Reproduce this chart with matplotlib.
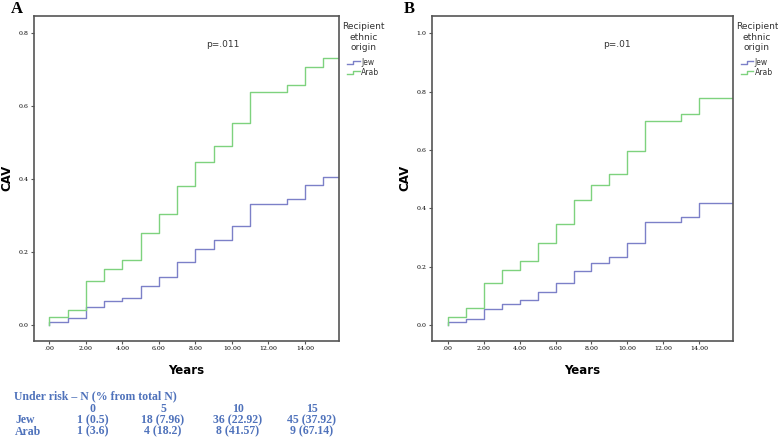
import matplotlib
matplotlib.use("Agg")
import matplotlib.pyplot as plt
from matplotlib.legend_handler import HandlerBase
from matplotlib.lines import Line2D

# ---- data ----
times_A = [0, 1, 2, 3, 4, 5, 6, 7, 8, 9, 10, 11, 13, 14, 15]
jew_A = [0.007, 0.019, 0.05, 0.065, 0.075, 0.107, 0.132, 0.173, 0.209, 0.234, 0.272, 0.331, 0.345, 0.383, 0.405]
arab_A = [0.021, 0.042, 0.12, 0.154, 0.178, 0.251, 0.303, 0.382, 0.447, 0.491, 0.555, 0.638, 0.659, 0.707, 0.733]
end_A = 15.85

times_B = [0, 1, 2, 3, 4, 5, 6, 7, 8, 9, 10, 11, 13, 14]
jew_B = [0.009, 0.02, 0.055, 0.072, 0.086, 0.112, 0.143, 0.185, 0.211, 0.232, 0.281, 0.352, 0.371, 0.419]
arab_B = [0.028, 0.057, 0.143, 0.189, 0.218, 0.28, 0.347, 0.43, 0.48, 0.519, 0.598, 0.70, 0.724, 0.778]
end_B = 15.85

xticks = [0, 2, 4, 6, 8, 10, 12, 14]
xticklabels = [".00", "2.00", "4.00", "6.00", "8.00", "10.00", "12.00", "14.00"]
yticks_A = [0.0, 0.2, 0.4, 0.6, 0.8]
yticks_B = [0.0, 0.2, 0.4, 0.6, 0.8, 1.0]

risk_title = "Under risk \u2013 N (% from total N)"
risk_cols = ["0", "5", "10", "15"]
risk_rows = ["Jew", "Arab"]
risk_jew = ["1 (0.5)", "18 (7.96)", "36 (22.92)", "45 (37.92)"]
risk_arab = ["1 (3.6)", "4 (18.2)", "8 (41.57)", "9 (67.14)"]

JEW_C = "#7c80c8"
ARAB_C = "#7ed27e"
FRAME_C = "#555555"
TABLE_C = "#4f72bb"


class StepHandler(HandlerBase):
    def create_artists(self, legend, orig, xd, yd, w, h, fontsize, trans):
        xs = [xd, xd + 0.45 * w, xd + 0.45 * w, xd + w]
        ys = [yd + 0.25 * h, yd + 0.25 * h, yd + 0.8 * h, yd + 0.8 * h]
        ln = Line2D(xs, ys, color=orig.get_color(), lw=orig.get_linewidth(), transform=trans)
        return [ln]


fig = plt.figure(figsize=(7.78, 4.45), dpi=100)
fig.patch.set_facecolor("white")


def panel(rect, times, jew, arab, end, yticks, ylim, xlim, ptxt, pxy, label, lx):
    ax = fig.add_axes(rect)
    for vals, c, name in ((jew, JEW_C, "Jew"), (arab, ARAB_C, "Arab")):
        xs = [0] + list(times) + [end]
        ys = [0] + list(vals) + [vals[-1]]
        ax.step(xs, ys, where="post", color=c, lw=1.0, label=name)
    ax.set_xlim(*xlim)
    ax.set_ylim(*ylim)
    ax.set_xticks(xticks)
    ax.set_xticklabels(xticklabels, fontsize=4.5, family="DejaVu Serif")
    ax.set_yticks(yticks)
    ax.set_yticklabels([f"{v:.1f}" for v in yticks], fontsize=4.5, family="DejaVu Serif")
    ax.tick_params(direction="out", length=2.5, width=0.8, color=FRAME_C, pad=1.5)
    for s in ax.spines.values():
        s.set_color(FRAME_C)
        s.set_linewidth(1.2)
    ax.set_xlabel("Years", fontsize=8.5, fontweight="bold", family="DejaVu Sans")
    ax.xaxis.set_label_coords(0.5, -0.072)
    ax.set_ylabel("CAV", fontsize=8.5, fontweight="bold", family="DejaVu Sans")
    ax.yaxis.set_label_coords(-0.069, 0.5)
    ax.text(pxy[0], pxy[1], ptxt, fontsize=6.5, ha="center", va="center", color="#333333")
    leg = ax.legend(title="Recipient\nethnic\norigin", loc="upper left",
                    bbox_to_anchor=(1.005, 0.985), frameon=False,
                    handler_map={Line2D: StepHandler()},
                    fontsize=5.5, title_fontsize=6.5, handlelength=1.6,
                    handletextpad=0.2, labelspacing=0.1, borderaxespad=0.0,
                    borderpad=0.2)
    leg.get_title().set_color("#333333")
    leg.get_title().set_multialignment("center")
    leg._legend_box.sep = 4.5
    for t in leg.get_texts():
        t.set_color("#333333")
    fig.text(lx, 1 - 9 / 445, label, fontsize=12, fontweight="bold",
             family="Liberation Serif", ha="center", va="center")
    return ax


axA = panel([34 / 778, 1 - 340.7 / 445, 305 / 778, 324.7 / 445],
            times_A, jew_A, arab_A, end_A, yticks_A, (-0.043, 0.847), (-0.84, 15.87),
            "p=.011", (9.5, 0.77), "A", 17 / 778)
axB = panel([432.3 / 778, 1 - 340.7 / 445, 300.4 / 778, 324.7 / 445],
            times_B, jew_B, arab_B, end_B, yticks_B, (-0.054, 1.06), (-0.86, 15.86),
            "p=.01", (9.4, 0.963), "B", 409 / 778)

# risk table
tkw = dict(fontsize=8.5, fontweight="bold", family="Liberation Serif", color=TABLE_C, va="center")
fig.text(14 / 778, 1 - 396 / 445, risk_title, ha="left", **tkw)
col_x = [92.7, 163, 238, 311.7]
for cx, h in zip(col_x, risk_cols):
    fig.text(cx / 778, 1 - 409 / 445, h, ha="center", **tkw)
for ry, name, vals in ((420, risk_rows[0], risk_jew), (431.7, risk_rows[1], risk_arab)):
    fig.text(15 / 778, 1 - ry / 445, name, ha="left", **tkw)
    for cx, v in zip(col_x, vals):
        fig.text(cx / 778, 1 - ry / 445, v, ha="center", **tkw)

fig.savefig("out.png", dpi=100, facecolor="white")
